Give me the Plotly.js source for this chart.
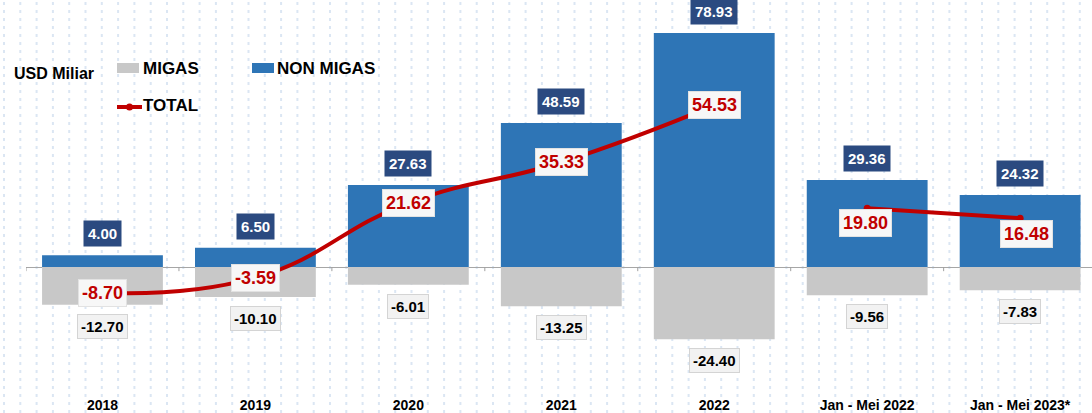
<!DOCTYPE html>
<html>
<head>
<meta charset="utf-8">
<script src="https://cdn.plot.ly/plotly-3.0.1.min.js"></script>
<style>
  html, body { margin: 0; padding: 0; background: #ffffff; }
  #chart { width: 1092px; height: 413px; }
</style>
</head>
<body>
<div id="chart"></div>
<script>
// ---- data ----
const categories = ['2018', '2019', '2020', '2021', '2022', 'Jan - Mei 2022', 'Jan - Mei 2023*'];
const migas = [-12.70, -10.10, -6.01, -13.25, -24.40, -9.56, -7.83];
const nonMigas = [4.00, 6.50, 27.63, 48.59, 78.93, 29.36, 24.32];
const total = [-8.70, -3.59, 21.62, 35.33, 54.53, 19.80, 16.48];
const seriesNames = ['MIGAS', 'NON MIGAS', 'TOTAL'];
const unitLabel = 'USD Miliar';
const annualCount = 5; // first five categories are full years, the rest are Jan-Mei periods

// ---- style ----
const C_MIGAS = '#c8c8c8';
const C_NON = '#2e75b6';
const C_TOTAL = '#c00000';
const C_NAVY = '#2b4a80';
const FONT = 'Liberation Sans, Arial, sans-serif';
const FONT_NARROW = 'Liberation Sans Narrow, Liberation Sans, Arial, sans-serif';
const W = 1092, H = 413;
const M = {l: 26, r: 0, t: 15, b: 18};
const PW = W - M.l - M.r, PH = H - M.t - M.b;
const px2x = px => (px - M.l) / PW;
const py2y = py => (H - M.b - py) / PH;
const TOTAL_LABEL_SHIFT = {5: {x: -2, y: -15}, 6: {x: 6, y: -16}};

const lineStyle = {color: C_TOTAL, width: 4, shape: 'spline', smoothing: 1.3};
const traces = [
  {type: 'bar', name: seriesNames[0], x: categories, y: migas,
   marker: {color: C_MIGAS}, width: 0.79, showlegend: false, hoverinfo: 'y'},
  {type: 'bar', name: seriesNames[1], x: categories, y: nonMigas,
   marker: {color: C_NON}, width: 0.79, showlegend: false, hoverinfo: 'y'},
  {type: 'scatter', mode: 'lines+markers', name: seriesNames[2],
   x: categories.slice(0, annualCount), y: total.slice(0, annualCount),
   line: lineStyle, marker: {color: C_TOTAL, size: 7}, showlegend: false, cliponaxis: false, hoverinfo: 'y'},
  {type: 'scatter', mode: 'lines+markers', name: seriesNames[2],
   x: categories.slice(annualCount), y: total.slice(annualCount),
   line: lineStyle, marker: {color: C_TOTAL, size: 7}, showlegend: false, cliponaxis: false, hoverinfo: 'y'}
];

const annotations = [];
categories.forEach((c, i) => {
  annotations.push({x: i, y: nonMigas[i], xref: 'x', yref: 'y', text: '<b>' + nonMigas[i].toFixed(2) + '</b>',
    showarrow: false, yanchor: 'bottom', yshift: 8, bgcolor: C_NAVY, borderpad: 4,
    font: {family: FONT, size: 15, color: '#ffffff'}});
  annotations.push({x: i, y: migas[i], xref: 'x', yref: 'y', text: '<b>' + migas[i].toFixed(2) + '</b>',
    showarrow: false, yanchor: 'top', yshift: -9, bgcolor: '#f2f2f2', bordercolor: '#d4d4d4', borderwidth: 1, borderpad: 3,
    font: {family: FONT, size: 15, color: '#000000'}});
  const sh = TOTAL_LABEL_SHIFT[i] || {x: 0, y: 0};
  annotations.push({x: i, y: total[i], xref: 'x', yref: 'y', text: '<b>' + total[i].toFixed(2) + '</b>',
    showarrow: false, xshift: sh.x, yshift: sh.y, bgcolor: '#f7f7f7', bordercolor: '#e2e2e2', borderwidth: 1, borderpad: 3,
    font: {family: FONT, size: 18, color: C_TOTAL}});
});

// custom legend text
annotations.push({xref: 'paper', yref: 'paper', x: px2x(12), y: py2y(73), xanchor: 'left', yanchor: 'middle',
  text: '<b>' + unitLabel + '</b>', showarrow: false, font: {family: FONT, size: 16, color: '#000'}});
annotations.push({xref: 'paper', yref: 'paper', x: px2x(141), y: py2y(68), xanchor: 'left', yanchor: 'middle',
  text: '<b>' + seriesNames[0] + '</b>', showarrow: false, font: {family: FONT, size: 17, color: '#000'}});
annotations.push({xref: 'paper', yref: 'paper', x: px2x(275), y: py2y(68), xanchor: 'left', yanchor: 'middle',
  text: '<b>' + seriesNames[1] + '</b>', showarrow: false, font: {family: FONT, size: 17, color: '#000'}});
annotations.push({xref: 'paper', yref: 'paper', x: px2x(141), y: py2y(106), xanchor: 'left', yanchor: 'middle',
  text: '<b>' + seriesNames[2] + '</b>', showarrow: false, font: {family: FONT, size: 17, color: '#000'}});

const shapes = [];
// dotted background pattern
for (let px = 4; px < W; px += 16.3) {
  shapes.push({type: 'line', xref: 'paper', yref: 'paper', x0: px2x(px), x1: px2x(px), y0: py2y(H), y1: py2y(0),
    line: {color: '#dbe6f3', width: 2, dash: '3px,5px'}, layer: 'below'});
}
// tick marks on the zero axis at category boundaries
for (let i = 0; i < categories.length; i++) {
  shapes.push({type: 'line', xref: 'x', yref: 'y', x0: i - 0.5, x1: i - 0.5, y0: 0, y1: -1.4,
    line: {color: '#a0a0a0', width: 1}});
}
// legend swatches
shapes.push({type: 'rect', xref: 'paper', yref: 'paper', x0: px2x(117), x1: px2x(139), y0: py2y(73), y1: py2y(63),
  fillcolor: C_MIGAS, line: {width: 0}});
shapes.push({type: 'rect', xref: 'paper', yref: 'paper', x0: px2x(252), x1: px2x(274), y0: py2y(73), y1: py2y(63),
  fillcolor: C_NON, line: {width: 0}});
shapes.push({type: 'line', xref: 'paper', yref: 'paper', x0: px2x(117), x1: px2x(142), y0: py2y(107), y1: py2y(107),
  line: {color: C_TOTAL, width: 4}});
shapes.push({type: 'circle', xref: 'paper', yref: 'paper', x0: px2x(126), x1: px2x(133), y0: py2y(110.5), y1: py2y(103.5),
  fillcolor: C_TOTAL, line: {width: 0}});

const layout = {
  width: W, height: H,
  margin: M,
  paper_bgcolor: '#ffffff',
  plot_bgcolor: 'rgba(0,0,0,0)',
  barmode: 'relative',
  showlegend: false,
  xaxis: {type: 'category', range: [-0.5, 6.47], showline: false, showgrid: false, zeroline: false,
    ticks: '', tickfont: {family: FONT_NARROW, size: 14, color: '#000'}, tickprefix: '<b>', ticksuffix: '</b>',
    fixedrange: true},
  yaxis: {range: [-43.17, 85], showgrid: false, showticklabels: false, zeroline: true,
    zerolinecolor: '#a6a6a6', zerolinewidth: 1, showline: false, fixedrange: true},
  annotations: annotations,
  shapes: shapes
};

Plotly.newPlot('chart', traces, layout, {displayModeBar: false, staticPlot: true});
</script>
</body>
</html>
